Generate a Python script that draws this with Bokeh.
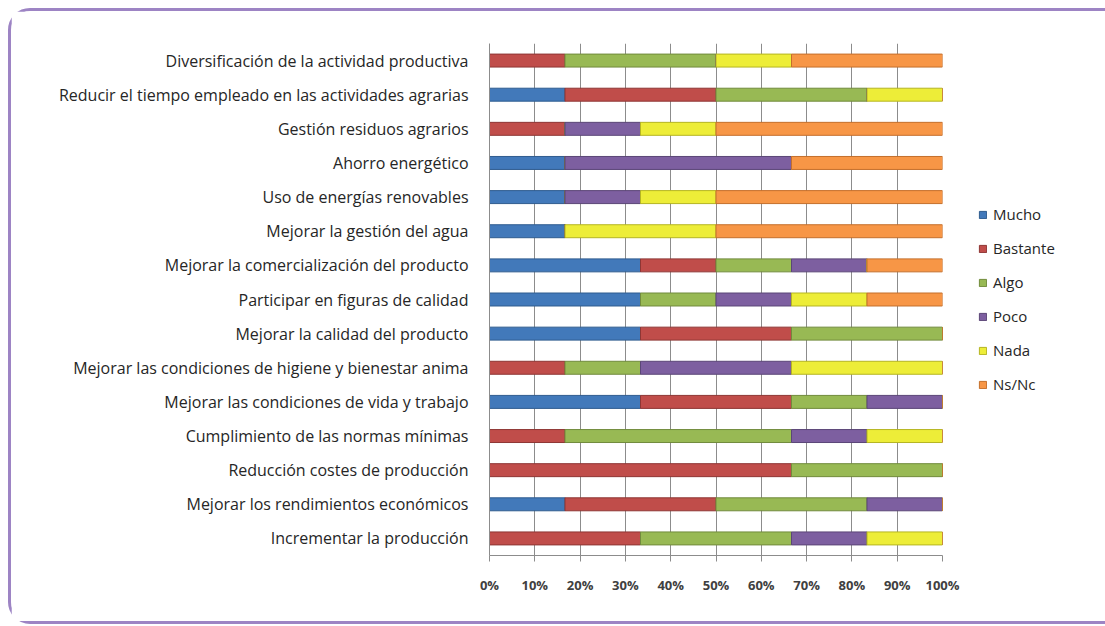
from bokeh.plotting import figure
from bokeh.models import (FactorRange, Range1d, Legend, LegendItem, FixedTicker,
                          PrintfTickFormatter)
from bokeh.embed import file_html
from bokeh.resources import INLINE

# Categories (top to bottom as in the chart)
categories = [
    "Diversificación de la actividad productiva",
    "Reducir el tiempo empleado en las actividades agrarias",
    "Gestión residuos agrarios",
    "Ahorro energético",
    "Uso de energías renovables",
    "Mejorar la gestión del agua",
    "Mejorar la comercialización del producto",
    "Participar en figuras de calidad",
    "Mejorar la calidad del producto",
    "Mejorar las condiciones de higiene y bienestar anima",
    "Mejorar las condiciones de vida y trabajo",
    "Cumplimiento de las normas mínimas",
    "Reducción costes de producción",
    "Mejorar los rendimientos económicos",
    "Incrementar la producción",
]

series = ["Mucho", "Bastante", "Algo", "Poco", "Nada", "Ns/Nc"]

# Responses (count of answers per category), same order as categories
mucho    = [0, 1, 0, 1, 1, 1, 2, 2, 2, 0, 2, 0, 0, 1, 0]
bastante = [1, 2, 1, 0, 0, 0, 1, 0, 2, 1, 2, 1, 4, 2, 2]
algo     = [2, 2, 0, 0, 0, 0, 1, 1, 2, 1, 1, 3, 2, 2, 2]
poco     = [0, 0, 1, 3, 1, 0, 1, 1, 0, 2, 1, 1, 0, 1, 1]
nada     = [1, 1, 1, 0, 1, 2, 0, 1, 0, 2, 0, 1, 0, 0, 1]
nsnc     = [2, 0, 3, 2, 3, 3, 1, 1, 0, 0, 0, 0, 0, 0, 0]

x_ticks = [0, 10, 20, 30, 40, 50, 60, 70, 80, 90, 100]

fill_colors = ["#4279BA", "#C04D4A", "#98B954", "#7D5FA0", "#EDED38", "#F79646"]
line_colors = ["#2F5C8F", "#8E3634", "#718B3C", "#5B4677", "#B5B522", "#C46F2B"]

raw = [mucho, bastante, algo, poco, nada, nsnc]
totals = [sum(col[i] for col in raw) for i in range(len(categories))]
data = {"cat": categories}
for name, col in zip(series, raw):
    data[name] = [100.0 * v / t for v, t in zip(col, totals)]

FONT = "Open Sans"

p = figure(
    frame_width=453, frame_height=512,
    y_range=FactorRange(factors=list(reversed(categories))),
    x_range=Range1d(0, 100),
    output_backend="svg", toolbar_location=None,
    min_border_left=478, min_border_right=157,
    min_border_top=32, min_border_bottom=66,
)
p.styles = {"border": "3px solid #9D84C4", "border-radius": "22px",
            "margin-left": "8px", "margin-top": "8px"}
p.outline_line_color = None
p.background_fill_color = "white"
p.border_fill_color = "white"

renderers = p.hbar_stack(series, y="cat", height=0.38, source=data,
                         fill_color=fill_colors, line_color=line_colors, line_width=1)

p.xaxis.ticker = FixedTicker(ticks=x_ticks)
p.xaxis.formatter = PrintfTickFormatter(format="%d%%")
p.xaxis.major_label_text_font = FONT
p.xaxis.major_label_text_font_style = "bold"
p.xaxis.major_label_text_font_size = "13px"
p.xaxis.major_label_text_color = "#404040"
p.xaxis.axis_line_color = "#8C8C8C"
p.xaxis.major_tick_line_color = "#8C8C8C"
p.xaxis.major_tick_out = 6
p.xaxis.major_tick_in = 0
p.xaxis.minor_tick_line_color = None
p.xaxis.major_label_standoff = 14

p.yaxis.major_label_text_font = FONT
p.yaxis.major_label_text_font_style = "normal"
p.yaxis.major_label_text_font_size = "16px"
p.yaxis.major_label_text_color = "#262626"
p.yaxis.axis_line_color = "#8C8C8C"
p.yaxis.major_tick_line_color = None
p.yaxis.major_label_standoff = 15

p.xgrid.grid_line_color = "#8C8C8C"
p.xgrid.grid_line_width = 1
p.ygrid.grid_line_color = None

legend = Legend(
    items=[LegendItem(label=s, renderers=[r]) for s, r in zip(series, renderers)],
    location="center_left",
    orientation="vertical",
    border_line_color=None,
    background_fill_alpha=0,
    padding=0, margin=36,
    glyph_width=9, glyph_height=9,
    label_standoff=6,
    label_height=20,
    spacing=14,
    label_text_font=FONT,
    label_text_font_style="normal",
    label_text_font_size="15px",
    label_text_color="#262626",
)
p.add_layout(legend, "right")

open("out.html", "w").write(file_html(p, INLINE))
